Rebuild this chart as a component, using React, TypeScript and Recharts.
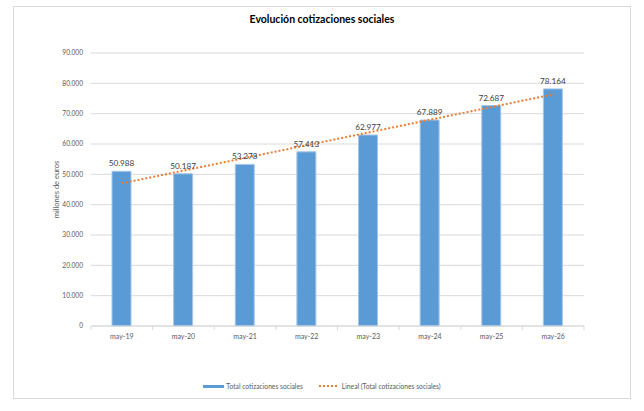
import React from "react";
import {
  ComposedChart,
  Bar,
  Line,
  XAxis,
  YAxis,
  CartesianGrid,
  LabelList,
  Label,
} from "recharts";

const categories = ["may-19", "may-20", "may-21", "may-22", "may-23", "may-24", "may-25", "may-26"];
const cotizaciones = [50988, 50187, 53278, 57413, 62977, 67889, 72687, 78164];
// linear trend (Excel "Lineal" trendline)
const tendencia = [47030, 51220, 55410, 59600, 63790, 67990, 72180, 76370];
const yTicks = [0, 10000, 20000, 30000, 40000, 50000, 60000, 70000, 80000, 90000];

const SERIES_NAME = "Total cotizaciones sociales";
const TREND_NAME = "Lineal (Total cotizaciones sociales)";

const W = 644;
const H = 411;
const MARGIN = { top: 53, right: 60, left: 31, bottom: 65 };
const Y_WIDTH = 60;
const BAND = (W - MARGIN.left - Y_WIDTH - MARGIN.right) / categories.length;

const FONT = "Lato, sans-serif";
const BLUE = "#5b9bd5";
const ORANGE = "#ed7d31";
const GRID = "#d9d9d9";
const AXIS_TEXT = "#595959";

const data = categories.map((c, i) => ({
  mes: c,
  total: cotizaciones[i],
  trend: tendencia[i],
}));

function fmt(v: number) {
  return String(v).replace(/\B(?=(\d{3})+(?!\d))/g, ".");
}

// eslint-disable-next-line @typescript-eslint/no-explicit-any
function CategoryTick({ x, y, payload, index }: any) {
  const half = BAND / 2;
  return (
    <g>
      <line x1={x - half} x2={x - half} y1={y} y2={y + 4} stroke={GRID} />
      {index === categories.length - 1 && (
        <line x1={x + half} x2={x + half} y1={y} y2={y + 4} stroke={GRID} />
      )}
      <text
        x={x}
        y={y + 13}
        textAnchor="middle"
        fontSize={7}
        fill={AXIS_TEXT}
        fontFamily={FONT}
      >
        {payload.value}
      </text>
    </g>
  );
}

export default function App() {
  return (
    <div
      style={{
        position: "fixed",
        left: 0,
        top: 0,
        width: W,
        height: H,
        background: "#fff",
        fontFamily: FONT,
      }}
    >
      <div
        style={{
          position: "absolute",
          left: 13,
          top: 6,
          width: 616,
          height: 391,
          border: "1.5px solid #d9d9d9",
        }}
      />
      <div
        style={{
          position: "absolute",
          left: 0,
          top: 13,
          width: W,
          textAlign: "center",
          fontSize: 10.5,
          fontWeight: 700,
          color: "#000",
        }}
      >
        Evolución cotizaciones sociales
      </div>

      <div style={{ position: "absolute", left: 0, top: 0 }}>
        <ComposedChart width={W} height={H} data={data} margin={MARGIN}>
          <CartesianGrid vertical={false} stroke={GRID} />
          <XAxis
            dataKey="mes"
            axisLine={{ stroke: GRID }}
            tickLine={false}
            tickSize={0}
            tickMargin={0}
            height={20}
            tick={<CategoryTick />}
            interval={0}
          />
          <YAxis
            width={Y_WIDTH}
            domain={[0, 90000]}
            ticks={yTicks}
            axisLine={false}
            tickLine={false}
            tickSize={0}
            tickMargin={8}
            tickFormatter={fmt}
            tick={{ fontSize: 6.6, fill: AXIS_TEXT, fontFamily: FONT }}
          >
            <Label
              // eslint-disable-next-line @typescript-eslint/no-explicit-any
              content={({ viewBox }: any) => {
                const cx = viewBox.x + 25;
                const cy = viewBox.y + viewBox.height / 2;
                return (
                  <text
                    x={cx}
                    y={cy}
                    transform={`rotate(-90 ${cx} ${cy})`}
                    textAnchor="middle"
                    dominantBaseline="central"
                    fontSize={7.5}
                    fill={AXIS_TEXT}
                    fontFamily={FONT}
                  >
                    millones de euros
                  </text>
                );
              }}
            />
          </YAxis>
          <Bar
            dataKey="total"
            name={SERIES_NAME}
            fill={BLUE}
            stroke="#a4c6ea"
            strokeWidth={1}
            barSize={19}
            isAnimationActive={false}
          >
            <LabelList
              dataKey="total"
              position="top"
              offset={5}
              formatter={(v: number) => fmt(v)}
              style={{ fontSize: 8.2, fill: "#404040", fontFamily: FONT }}
            />
          </Bar>
          <Line
            dataKey="trend"
            name={TREND_NAME}
            stroke={ORANGE}
            strokeWidth={2}
            strokeDasharray="2 2"
            dot={false}
            activeDot={false}
            isAnimationActive={false}
          />
        </ComposedChart>
      </div>

      <div
        style={{
          position: "absolute",
          top: 382,
          left: 0,
          width: W,
          display: "flex",
          justifyContent: "center",
          alignItems: "center",
          fontSize: 6.7,
          color: AXIS_TEXT,
        }}
      >
        <span
          style={{
            display: "inline-block",
            width: 21,
            height: 3,
            background: BLUE,
            marginRight: 2,
          }}
        />
        <span style={{ marginRight: 15 }}>{SERIES_NAME}</span>
        <svg width={20} height={4} style={{ marginRight: 4 }}>
          <line
            x1={1}
            x2={20}
            y1={2}
            y2={2}
            stroke={ORANGE}
            strokeWidth={2}
            strokeDasharray="2 2"
          />
        </svg>
        <span>{TREND_NAME}</span>
      </div>
    </div>
  );
}
